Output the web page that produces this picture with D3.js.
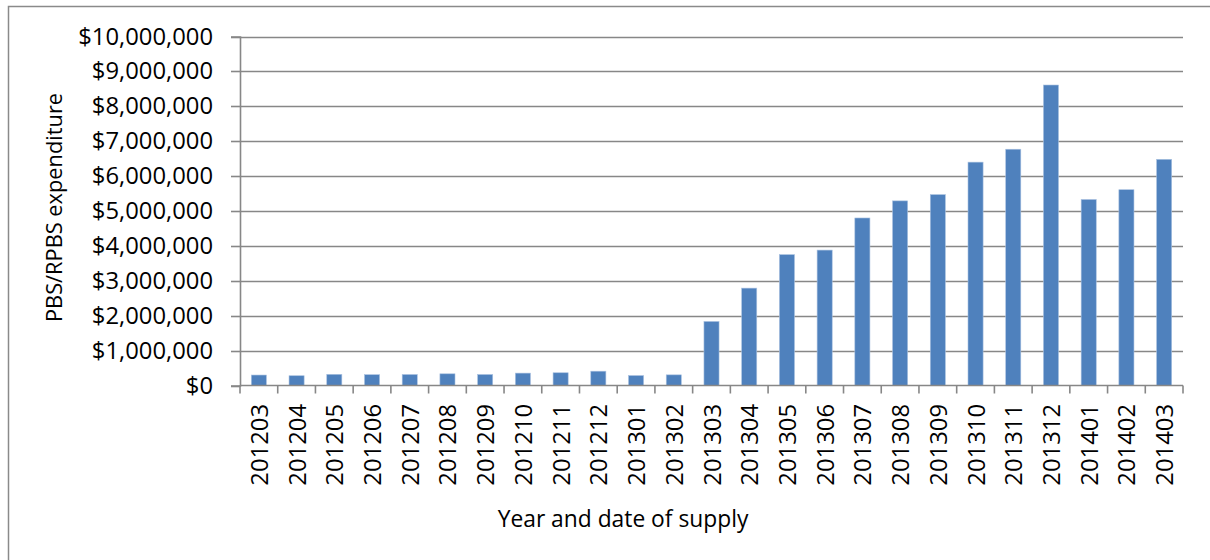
<!DOCTYPE html>
<html>
<head>
<meta charset="utf-8">
<script src="https://cdn.jsdelivr.net/npm/d3@7"></script>
<style>
  html, body { margin: 0; padding: 0; background: #fff; }
  svg { display: block; }
  text { font-family: "Open Sans", "Noto Sans", sans-serif; fill: #000; }
</style>
</head>
<body>
<svg id="chart" width="1210" height="560"></svg>
<script>
// Monthly supply periods (YYYYMM)
const months = ["201203","201204","201205","201206","201207","201208","201209","201210",
  "201211","201212","201301","201302","201303","201304","201305","201306","201307",
  "201308","201309","201310","201311","201312","201401","201402","201403"];

// PBS/RPBS expenditure per month, in dollars
const expenditure = [300000, 280000, 320000, 310000, 315000, 335000, 315000, 355000,
  365000, 410000, 285000, 305000, 1835000, 2790000, 3750000, 3880000, 4800000,
  5290000, 5470000, 6400000, 6770000, 8610000, 5330000, 5610000, 6480000];

// Y axis tick values
const yTicks = [0, 1000000, 2000000, 3000000, 4000000, 5000000, 6000000, 7000000,
  8000000, 9000000, 10000000];

const yTitle = "PBS/RPBS expenditure";
const xTitle = "Year and date of supply";

const svg = d3.select("#chart");
const plot = { left: 240, right: 1183, top: 36.5, bottom: 385.5 };
const gridColor = "#878787";
const tickFont = 23.8;

// Outer chart frame (top and left edges)
svg.append("path")
  .attr("d", `M8.5,560 V6.5 H1210`)
  .attr("fill", "none")
  .attr("stroke", "#8a8a8a")
  .attr("stroke-width", 1.5);

const x = d3.scaleBand()
  .domain(months)
  .range([plot.left, plot.right])
  .paddingInner(0.6)
  .paddingOuter(0.3);

const y = d3.scaleLinear()
  .domain([0, 10000000])
  .range([plot.bottom, plot.top]);

const fmt = v => "$" + d3.format(",")(v);

// Horizontal gridlines
svg.append("g")
  .selectAll("line")
  .data(yTicks.filter(d => d > 0))
  .join("line")
  .attr("x1", plot.left)
  .attr("x2", plot.right)
  .attr("y1", d => Math.round(y(d)) + 0.5)
  .attr("y2", d => Math.round(y(d)) + 0.5)
  .attr("stroke", gridColor)
  .attr("stroke-width", 1.6);

// Bars
svg.append("g")
  .selectAll("rect")
  .data(months.map((m, i) => ({ m, v: expenditure[i] })))
  .join("rect")
  .attr("x", d => x(d.m))
  .attr("width", x.bandwidth())
  .attr("y", d => y(d.v))
  .attr("height", d => y(0) - y(d.v))
  .attr("fill", "#4f81bd")
  .attr("stroke", "#a9c1e0")
  .attr("stroke-width", 0.6);

// Y axis
const yAxis = svg.append("g")
  .attr("transform", `translate(${plot.left},0)`)
  .call(d3.axisLeft(y).tickValues(yTicks).tickFormat(fmt).tickSize(9).tickPadding(18));
yAxis.select(".domain").attr("stroke", gridColor).attr("stroke-width", 1.6);
yAxis.selectAll(".tick line").attr("stroke", gridColor).attr("stroke-width", 1.6);
yAxis.selectAll(".tick text")
  .attr("font-size", tickFont)
  .attr("font-family", "Open Sans")
  .attr("fill", "#000");
yAxis.selectAll(".tick").attr("transform", d => `translate(0,${Math.round(y(d)) + 0.5})`);

// X axis: baseline plus tick marks at category boundaries
const xg = svg.append("g");
xg.append("line")
  .attr("x1", plot.left).attr("x2", plot.right)
  .attr("y1", plot.bottom).attr("y2", plot.bottom)
  .attr("stroke", gridColor).attr("stroke-width", 1.6);
xg.selectAll("line.tick")
  .data(d3.range(months.length + 1))
  .join("line")
  .attr("class", "tick")
  .attr("x1", i => plot.left + i * (plot.right - plot.left) / months.length)
  .attr("x2", i => plot.left + i * (plot.right - plot.left) / months.length)
  .attr("y1", plot.bottom)
  .attr("y2", plot.bottom + 8)
  .attr("stroke", gridColor).attr("stroke-width", 1.6);

// Rotated category labels
xg.selectAll("text")
  .data(months)
  .join("text")
  .attr("transform", d => `translate(${x(d) + x.bandwidth() / 2},404) rotate(-90)`)
  .attr("text-anchor", "end")
  .attr("dominant-baseline", "central")
  .attr("font-size", tickFont)
  .text(d => d);

// Axis titles
svg.append("text")
  .attr("transform", `translate(53,207.5) rotate(-90)`)
  .attr("text-anchor", "middle")
  .attr("dominant-baseline", "central")
  .attr("font-size", 21.8)
  .text(yTitle);

svg.append("text")
  .attr("x", 623)
  .attr("y", 527)
  .attr("text-anchor", "middle")
  .attr("font-size", 22.8)
  .text(xTitle);
</script>
</body>
</html>
